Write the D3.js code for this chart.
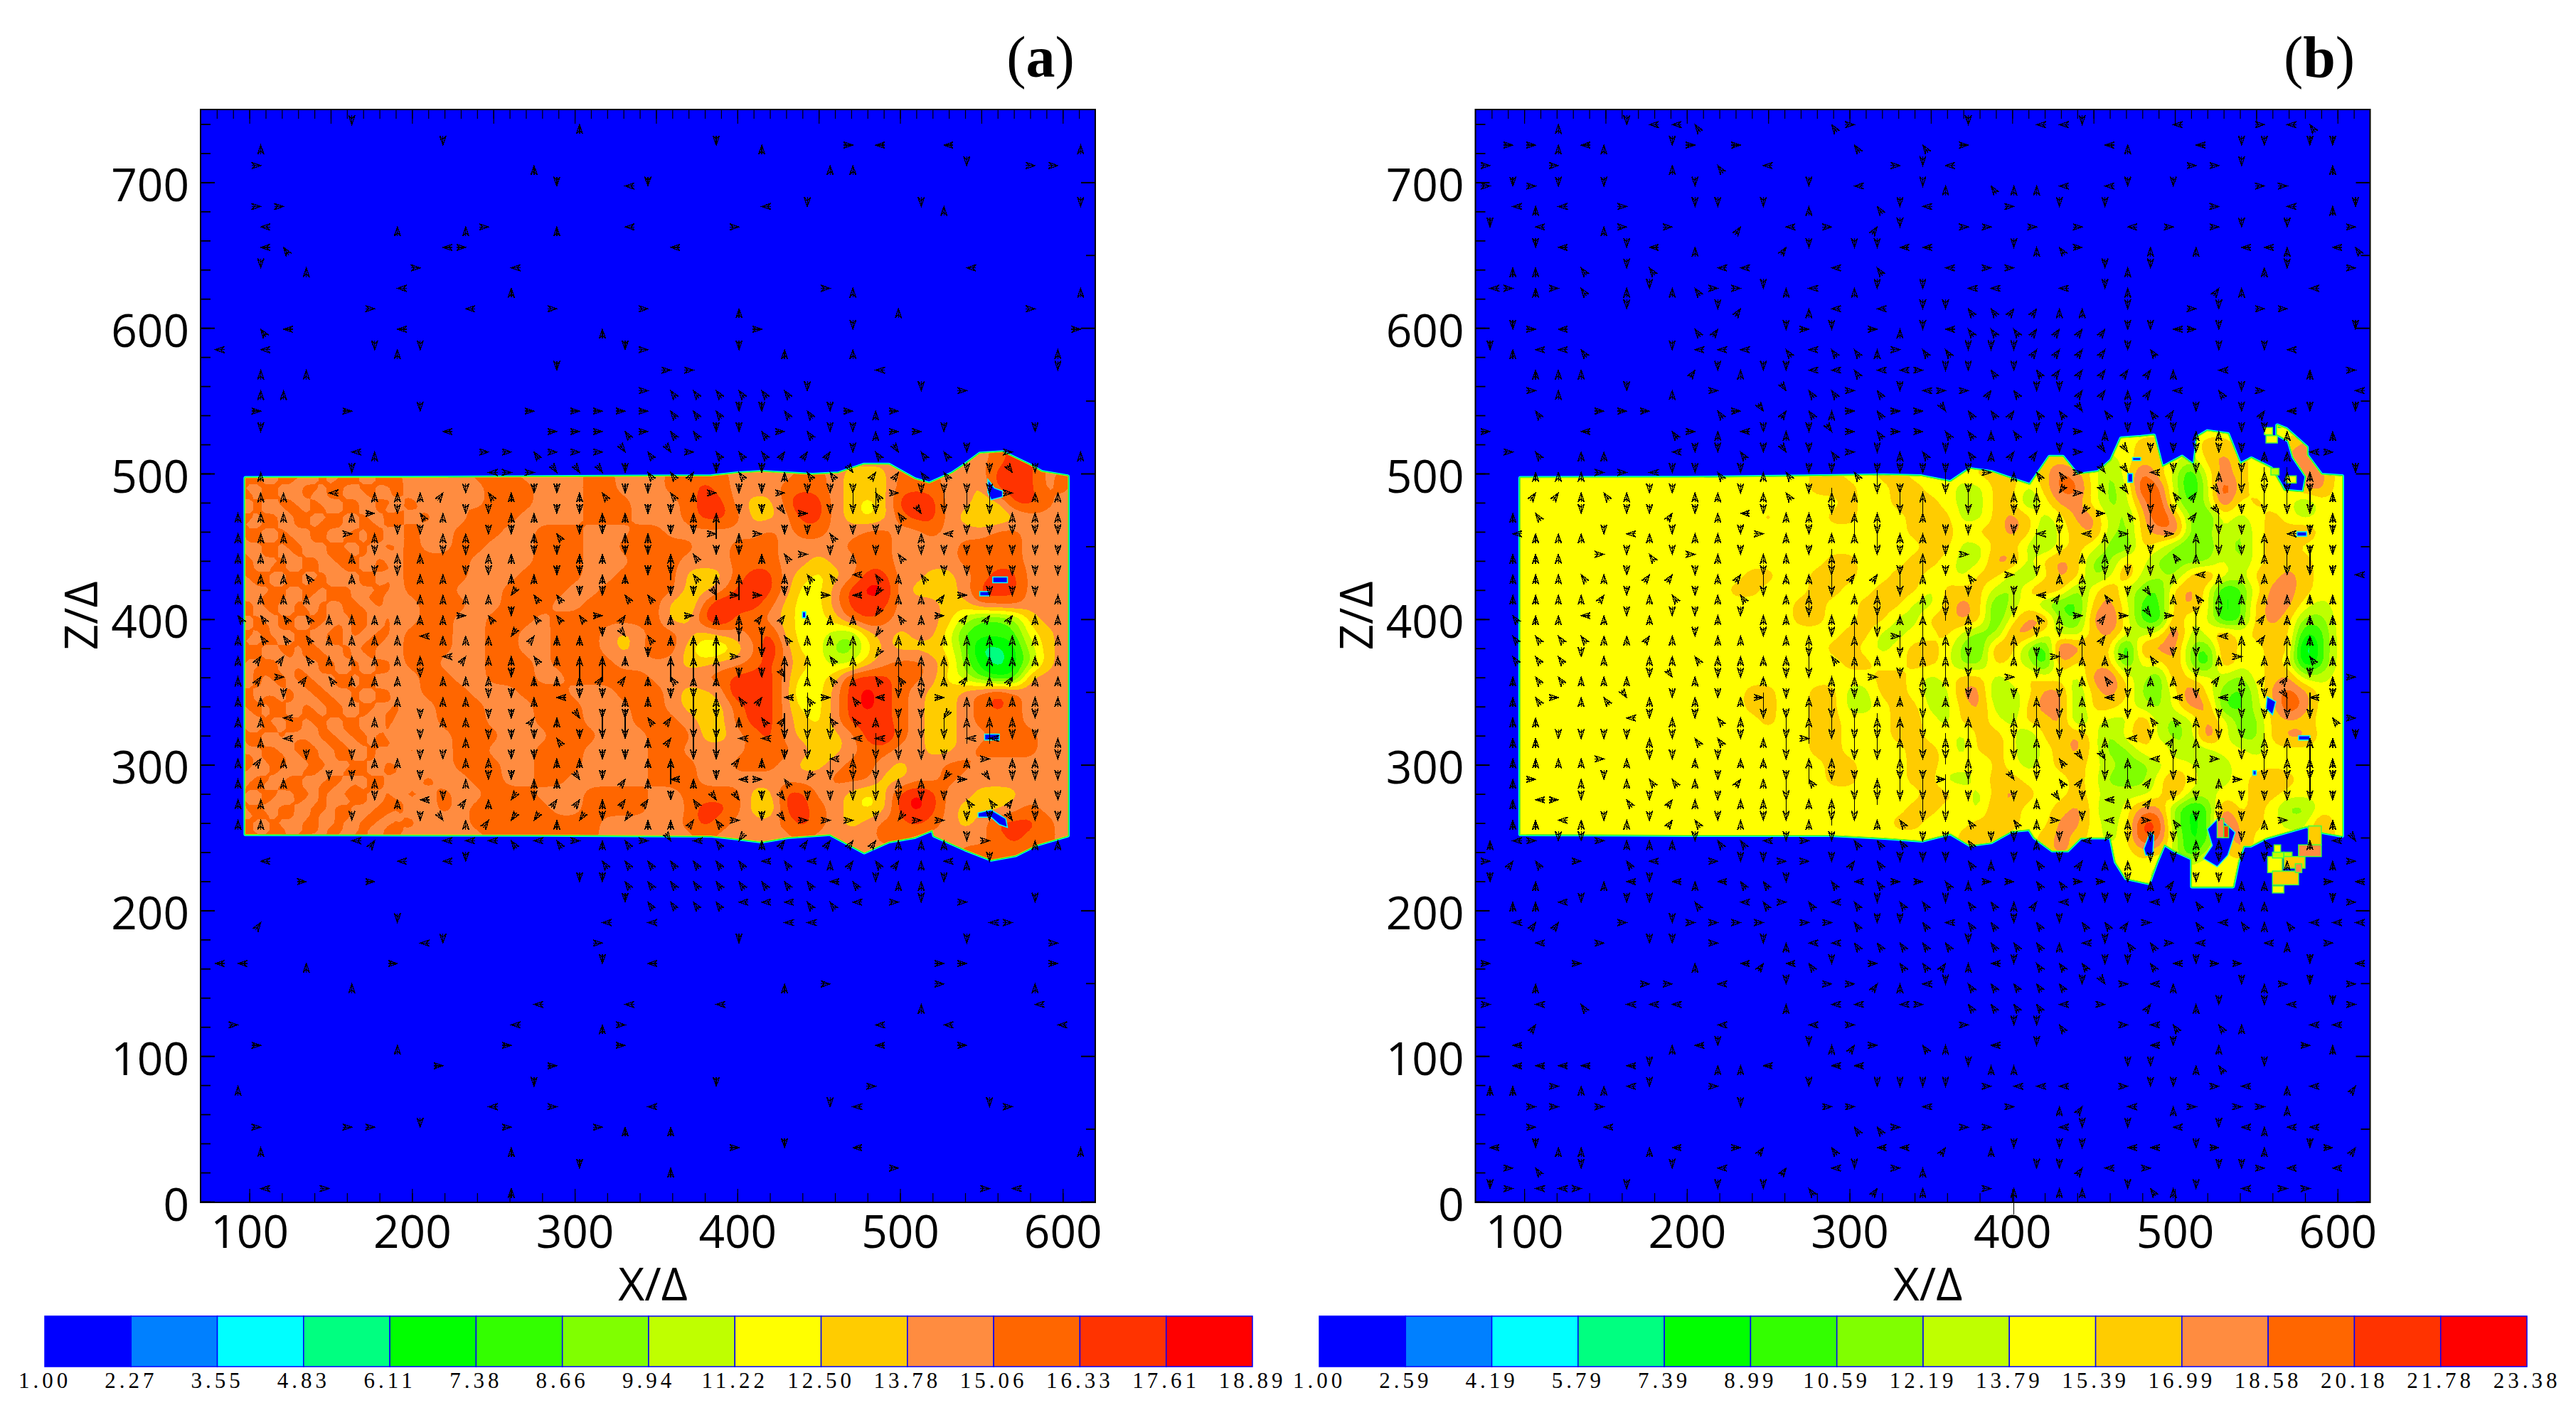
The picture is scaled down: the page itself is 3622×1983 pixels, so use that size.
<!DOCTYPE html>
<html><head><meta charset="utf-8"><title>Contours</title>
<script src="https://cdn.jsdelivr.net/npm/d3@7"></script>
<style>html,body{margin:0;padding:0;background:#fff}svg{display:block}</style></head>
<body><svg id="c" width="3622" height="1983"></svg>
<script>
const bandColors=["#0000ff","#0080ff","#00ffff","#00ff80","#00ff00","#33ff00","#80ff00","#bfff00","#ffff00","#ffcc00","#ff8c40","#ff6600","#ff3300","#ff0000"];
const legendA=["1.00","2.27","3.55","4.83","6.11","7.38","8.66","9.94","11.22","12.50","13.78","15.06","16.33","17.61","18.89"];
const legendB=["1.00","2.59","4.19","5.79","7.39","8.99","10.59","12.19","13.79","15.39","16.99","18.58","20.18","21.78","23.38"];

// Band index read at X=90,100..610 (10 columns per group), Z=530,520..220 (one row per Z)
const fieldA=[
"aaaaaaaaaa aaaaaaaaaa aaaaaaaaaa aaaaaaaaaa aaaaaaaaaa aaa",
"aaaaaaaaaa aaaaaaaaaa aaaaaaaaaa aaaaaaaaaa aaaaaaabca aaa",
"aaaaaaaaaa aaaaaaaaaa aaaaaaaaaa aaaaaaaaaa aaaaaaabcc aaa",
"abbabaabab baaaabbbaa aabbaaabbb baaaabba99 9bbbaaaccc aba",
"abbababbab baaaaabbba aabbaaabbc baaabbba99 9bbbaa9ccc aba",
"babbabaaba abaababbba aabbbaaabc ca99bdca98 9cdcaa99cc baa",
"abababbaab babaabbbaa aabbbaaabc cb99acca98 9bcca9889a aab",
"bababbabaa abaabbbaab bbaaabbaaa aaababbaab baabaaabba aab",
"abbaababab abaabbaaab bbaabbbbba abbbaaaabb baaaabbbba aab",
"babababaab abbbbaaaab bbaaabbbaa abbbaa9aab baaaabbbba aab",
"ababbababa abbbbaaabb bbaabbbb99 9bcca989ac caa99abcca aab",
"bababbabaa abbbaaabbb baabbbbb99 accca88acd da999accca aab",
"ababababba aabbbaabbb aabbcbb98b dccb988acc caaa99bbba aab",
"bababbabab aabbaabbba bbbbbbb99c dbba9889bc baaa975569 aab",
"ababbababa abbbaabbaa bbba9abba9 aabc988769 a9aa855558 9ab",
"babaababab abbbaabbaa bbba9acb97 79ada88668 a999863347 9ab",
"abababbaba abbaaabbba bbbbaaaa99 aabca98779 abba964346 9ab",
"baababbabb aabbaabbba abbbbbaaab bccca889cc cbba87544a aab",
"abbabaabaa aabbbaaabb baaabcba99 adcca78acd cba99abcba aab",
"babbabaaba baabbbaaab bbaaabba99 9bcca88acd cba99abcba aab",
"abbabbabaa aaabbbaaab bbaaabbba9 9bcca98acc cba99abbba aab",
"babbaababb aaaabbbaaa bbbaaabbb9 9abca999ac dba99aabbb aab",
"abaabbabab abaabbaaab bbaaaabbaa aabbba99ab baa99abbbb aab",
"babababbaa baaabbbaab bbaaaabbba abbba99abb a9aabbaaaa aab",
"abbaababab aabaabbaab baaaaabbba aaaaaaabbb 99aabaaaab aab",
"bababaabba ababaabbba aabbbbaabb bb99ccaa98 9cdcaa999a aab",
"ababaababb baababbbbb aabbbba9bc cb98ccba98 9cdca999ab aab",
"bababaabab abaaabbbbb bbbaaaaabc baaabcba9a bbcba9accc bab",
"ababababab baaaaabbbb bbbaaaaaab aaaaabaaaa bbaaaaabcb bab",
"aaaaaaaaaa aaaaaaaaaa aaaaaaaaaa aaaaaaaaaa aaaaabbbbb baa",
"aaaaaaaaaa aaaaaaaaaa aaaaaaaaaa aaaaaaaaaa aaaaaabbba aaa",
"aaaaaaaaaa aaaaaaaaaa aaaaaaaaaa aaaaaaaaaa aaaaaaaaaa aaa"];

// Fine mottling at the jet inlet of panel (a): X=95,100..195, Z=500,495..250; 1 = darker band, 0 = lighter band
const mottleA=[
"011001110010011001101","011001100010111001100","100110001101100110010","110110001001100010010","001001100100011001101","001000110110011001001","110110011001100100110","100110011011100110110","011001000110001011001","011001100110011011000","000110110001100100110","100110010001110100010","110001001100111001001","110011001100011001101","011100110010000110010","001100110110000110110","100011001101110001100","100111001001110011000","010110010010011001011","110010011010011100011","001001100110001100100","001101100100101100100","110100011001101001101","100110011001100011001","011001101100010110010","011000101110010010010","100110000011001001101","101110010011001001100","001011011000110110001","001001001100110110011","110000100110001001100","110110100011001001100","011011001001100110010","001011001101100100110","100100110110011000111","100110110010011000101","011001000011001101000","011000011001100101100","000110011100110010011","110111001100110010001","110011000110001100100","100010001100011100110","001100110001100011001","011001110011001011001","100110011010011100100","100100010010001100110","011001100110110001101","001101100100110011001","110010001100100110010","110011001101100100110","001100110001001100100"];

// Same columns as fieldA, Z=530,520..210
const fieldB=[
"8888888888 8888888888 8888888888 8888888888 8888888888 888",
"8888888888 8888888888 8888888888 8888888889 988998889a a88",
"8888888888 8888888888 8888888888 8889988789 9879a988aa a88",
"8888888888 8888888889 9889988889 9989ba868b 9748a9888a a88",
"8888888888 8888888889 9988998877 9979bb867c b747c9888a a88",
"8888888888 8888888888 8988999877 9968aa867a c757b89886 888",
"8888888888 8888889888 9988899977 9a978aa769 ca65878987 888",
"8888888888 8888888888 8888899989 9a9689a769 ab6686899a 888",
"8888888888 8888888888 8888889977 9976898659 8656768998 888",
"8888888888 8888888888 9988899877 aa79a96698 6666868999 888",
"8888888888 8888899889 9988998879 9768a967a7 769a8799a9 888",
"8888888888 8888998889 9889997999 769a968a76 59a8458aa9 888",
"8888888888 8888888899 88999779a9 5786559a85 59a8459aa8 788",
"8888888888 8888888899 88997799a9 58aa65ab85 4a78459a96 688",
"8888888888 8888888888 8997788976 6aa8779a87 8b78a89994 588",
"8888888888 8888888888 9987899865 a964ca993a aa65a88992 588",
"8888888888 8888888888 8998899866 9874a89958 8a64a88983 588",
"8888888888 8888888888 8889987899 789887ab87 5a887689a7 788",
"8888888888 8888899889 97799877aa 678aa69a96 68b8657aba 888",
"8888888888 8888899889 977899779a 769aa69987 68aa5579ca 888",
"8888888888 8888889889 9888998799 8799a6877a 767a866999 888",
"8888888888 8888888889 9888998879 98699a868a 767b8669aa 888",
"8888888888 8888888889 9888899879 98689a8668 9767887888 888",
"8888888888 8888888888 9988899887 9878998766 7886788888 888",
"8888888888 8888888888 9988899778 9988898666 8a87789a98 888",
"8888888888 8888888888 8888889987 9a98898777 8a77889988 888",
"8888888888 8888888888 8888899887 a9889a868a a645a89866 888",
"8888888888 8888888888 8888998889 9988aa878c c645c99877 a88",
"8888888888 8888888888 888888889a 9889a9878c b7459a8888 a88",
"8888888888 8888888888 8888888888 9889a98889 97478a8888 a88",
"8888888888 8888888888 8888888888 8888888888 7889878888 888",
"8888888888 8888888888 8888888888 8888888888 7798888888 888",
"8888888888 8888888888 8888888888 8888888888 8888888888 888"];

// Jet outline: [X,Z] read along the top edge left to right, then the bottom edge right to left
const outlineA=[[97.7,496.8],[200,497],[300,497.5],[384,498],[400,500],[415,501],[431,500],[446,499],[462,500],[478,506],[493,506],[501,501],[509,496],[518,493],[532,500],[540,506],[549,513.5],[563,514.5],[579,506],[587,501],[603,498],
[603,251.5],[584,245.3],[571,238],[556,235],[540,242],[521,251.5],[520,255.6],[509,250.5],[493,247.4],[478,240],[457,252.5],[431,250.5],[415,247.4],[400,249.5],[384,251.5],[300,252],[200,252.2],[97.7,252.4]];
const outlineB=[[97.7,496.8],[200,497],[282,498],[321,498.7],[344,498],[362,494],[374,503],[387,501],[400,496],[411,492],[423,511.4],[431,511.4],[440,499],[453,501],[461,509],[467,524],[479,525],[487,526],[492,504],[504.4,511.4],[512,505],[514,525],[520,529],[532.5,527],[540,506],[547,510.3],[559,503.6],[567,488],[579.3,487],[581,498],[573,511.4],[570,522.7],[563,527],[563,533],[568.4,530.5],[581,518],[581,512.6],[590,499],[602.7,498],
[602.7,251.4],[590,254],[581,258],[556,250],[546.5,244.6],[542,244.6],[538.7,233.4],[535.6,216.6],[510.6,216.6],[510.6,235.7],[499.7,241.3],[493.4,245.8],[488.7,233.4],[484,218.9],[470,222.2],[463.7,233.4],[460.6,250.2],[442,250.2],[434,241.3],[424.7,241.3],[413.8,250.2],[410.6,255.8],[399.7,254.8],[387,246.9],[374,245],[362,253],[344.4,248],[321,250],[288,252],[200,252],[97.7,252.4]];
// Blue gaps inside each jet, as outlines of [X,Z]
const holesA=[[[554,496],[558,490],[563,488],[563,484],[556,482],[554,487]],[[557,429],[566,429],[566,425],[557,425]],[[549,419],[555,419],[555,416],[549,416]],[[552,321],[561,321],[561,317],[552,317]],[[548,267],[556,269],[565,263],[566,257],[561,259],[556,264],[548,264]],[[440,405],[442,405],[442,401],[440,401]]];
const holesB=[[[520,255.9],[527,263.7],[537,253.6],[532.5,237.9],[526,230],[517.6,235.7],[523,244.6]],[[481,242.4],[484.8,253.6],[487,251.4],[486.4,237.9],[482,237.9]],[[556.7,346.7],[562,343.3],[560,334.3],[556,338.8]],[[575,460],[581,460],[581,457],[575,457]],[[576,320],[583,320],[583,317],[576,317]],[[474,511],[479,511],[479,509],[474,509]],[[471,500],[474,500],[474,494],[471,494]],[[548,296],[550,296],[550,293],[548,293]]];
// Detached patches of the jet: [X0,Z0,X1,Z1,band]
const patchesB=[[555,531.6,560,526.7,8],[556,526,563,521,8],[559,503.6,564,499,7],[568.4,498.4,574.6,493.5,8],[557,237,566,226,8],[560,240,567,236,7],[561,245,565,240,8],[567,240,572,236,7],[567,237,580,229,9],[576,245,590,237,10],[560,227,576,217.6,9],[560,216.8,567,212,8],[582,258,590,245,9],[574,232,578,226,10],[529,258,533,250,12],[526,263,530,250,10]];

// Velocity arrows: one string per grid row, top row first. Each entry is column number + direction.
const arrowsA=[
"6d16u","2u10d22d24u28r29l32l38u","2r14u27u28u33d36r37r","15d18l19d","2r3r24l26d31d32u38d","2l8u11u12r15u18l23r","2l3q10l11r20l","2d4u9r13l33l","8l13u27r28u38u","7r11l15r19r23u30u36r","2q3l8l17u24r28d38r","0l2l7d8u9d18d19r23d25u28u37u","2u4u15d20r21r29l37d","2u3u19r20q21q22q23q24q25q26d31d33r","2r6r9d14r16r17r18r19r20q21q22q23d24d25q26q27d28r29u30r","2d10l15r16r17r18q19r20q21q22d23d24q25r26q27d28d29u30r31r32d36d","6l7u12r13r14q15r16r17r18c19q20c21r22q23q24q25e26e27e28d29q30c31q32q33d35r38u","2u6d12l13r14r15c16c17c18d19q20q21e22d23q24d25u26q27q28c29e30e31q32q33d34d35c36d",
"2u3u5l7u8u9u10e11d12q13u14d15d16u17q18d19d20q21u22r23d24d25r26d27d28d29q30r31d32d33d34d35r36u37u",
"1u2u3u6u7r8d9q10u11d12d13u14u15d16d17u18u19d20d21u22U23d24d25c26r27d28D29D30q31c32D33D34D35u36u37u",
"1u2u3u6r7u8d9d10u11u12d13d14u15q16d17d18u19u20d21d22r23u24r25d26d27q28d29d30d31u32l33d34d35d36d37d",
"1u2u3u6u7d8u9u10d11d12u13u14d15d16u17u18d19d20U21q22d23d24u25q26r27d28u29d30q31d32d33d34d35d36d37d",
"1u2u3u4q6u7d8d9u10u11d12d13u14u15d16d17u18u19d20d21q22U23U25u26q27q28l29q30u31q32d33d34d35d36d37d",
"1u2u3u4u9u10u11u12u13z14q15q16d17d18q19q20d21d22c23r24r25d26d27r28l29z30u31u32e33r34d35d36d37u",
"1q2q3q4q5u6u7u8u9u10u11r12q13d14q15q16q17r18e19u20u21r22u23U24e25e26u27u28u29z30q31u32r33e34e35e36u37u",
"1u2q3q4q5u6u7u8u9l10u11u12u13z14e15u16u17d18c19q20u21U22U23d24d25q26u27u28U29z30U31u32u33U34U35U36u37u",
"1u2e3e4q5u6u7u8u9u10l11e12u13u14q15u16U17U18u19d20U21U22U23r24D25U26U27q28U29z30U31U32U33U34U35U36u37u",
"1u2e3r4e5q6u7u8u9d10u11u12u13d14u15u16u17e18e19u20q21u22u23d24d25c26u27q28u29q30q31u32u33e34u35e36u37u",
"1u2u3d6u8u10u11u12d13d14u15l16d17d18u19u20d21d22u23q24e25l26q27r28q29l30D31D32r33U34u35u36u37u",
"1u2u3l7u9d10u11u12d13d14e15u16c17d18d19q20e21D22D23u24q25e26D27q28q29u30d31d32z33U34U35u36d",
"1u2u3l7u9d11u12d13d14d15q16d17D18D19u20e21D22D23l24l25D26D27D28l29l30D31D32D33l34l35d36d37u",
"1u2e3u4d6d7u8u9d10d11u12u13d14d15u16u17d18d19u20U21D22D23e24u25d26D27l28U29D30D31D32d33u34r35u36u37d",
"1u2u3u5d6d7u9d11u12d13d14u15u16c17d18e19u20l21u22d23l24r25q26z27D28D29D30U31u32z33r34c35d36d37d",
"1u2u7d8u9l10d11e12u13z14d15e16e17u18e19e20d21q22c23c24d25c26d27d28D29D30d31d32d33q34q35e36u37d",
"1u2u6d9d10c11u12e13z14z15u16z17d18z19u20u21e22q23r24d25c26r27r28r29d30z31r32r33d34d35c36d37d",
"6l7e10l11l12l13q14l15q16r17u18q19r20c21l22q23z24u25e26e27e28e29e30u31u32u33d34r36u37u",
"2l8l10l11d17q18q19q20q21q22q23q24l25q26l27u28e29q30e31u32l33u34d",
"4r7r16d17d18q19q20q21q22q23q24q25q26q27l28q29d30u31u32d",
"18d19q20q21q22q23l24l25l26q27q28l30r31d33r36d",
"2e8d17l19l25l26l34l35r","9l10d17r23d33d37r","0l1l4u8r17d19l32r33r37r","6u25u27r32r36u","14l18l22l31u36l","1r13l17u18r29l32l37l","2r8u13r18r29l33r","10r15r","1u14d22d29r","12l15r19l27d28l34d35r","2r6r7r9d13r17r18u20u","2u13u23r25d28l38u","16d20u30r","2l5r13u34r35l"];
const arrowsB=[
"3u6d7l8l9q15q16r21d24l25l26d30l34r35l36q","1r2r3u4l5u8d9r11r16q19q21r27l28u31l33d34d36d37d","0r3r8u10q12l18r19d20l31r32r33d37u","0r1d2r3d5d9d14d16l19d20u22q23u24u25l27l28d30d34r35r","1l2u3l6r9d10d12d14u17q18d19l23r25d27d32r35l37u38d","0d2l5u6r8r11e13l15r17e18d21r22r24r26r28l30r32r33d35d38r","2d3l6d7l9u13e14d16d17d18l19l23d24u25q26r29u31u33l34l35u37l38q","1u2u4q6d7q10l11l15l17q20l22r23r27d28u29d34u35d38r","0l1r2u3r4q6u7d8u9q10r11r12d13u14l16u17d19d21l22l25l27d28u32e33u36l","6d10d11e14u15l17l19d20d21q22q23e24e25u26u28d31r32d34r35r","1d2r3l9q10e13d14r15d17r18u19d20l21q22q23q24e25e26e27e28d29d30l31r32d38d","0d1u2l3l4q8d9l10l11l13q14l15q16q17u18r19q20q21d22d23d24e25e26e27e28d29q32d34d35l","2u3u4u9e10d11u12d13d14l15l16q17l18l19r20d21d22q23d24q25e26e27e28e29e30u32l36u38r","2r3u6d8u10r13c14q15q16r17q18d19l20r21r22e23q24d25d26e27e28u29e30l32q33d34r38l","2q5r6r7r10q11r12c13e14q15u16r17q18r19r20c21q22q23e24q25q26c27q28d29q30e31d33d34e35l36d38d","0r4l8q9r10u11l12d13u14d15c16r17q18r19r20q21q22u23q24d25d26r27u28d29d30d31u32u33d34d35u37u","1r2q4u5u8l9d10d11q12d13c14d15q16r17d18u19q20d21q22u23e24e25d26r27c28c29d30d31d32d33d34u35u36l37r","2u3u4u5r6r7l8d9d10q11d12u13q14d15d16q17d18d19d20d21d22r23u24q25q26r27c28c29l30d31d32u33d34u35u36u38d",
"2e3e4u5q6u7d8d9u10u11d12u13q14d15u16u17D18d19U20D21d23u24u25z26r27c28c29d30q31e32c33D34D35D36d37u",
"1u2q4d6d7d8e9d10u11l12d13u14u15D16U17U18D19u21D23d24D25u26z27r28q29D30d31e32c33d34D35D36D37u",
"1l2u3u4u5d6l7u8d9u10u11d12r13u14d15u16u17d18u19u20d21d23d24l25d26l27U28r29D30r31U32D33d34U35l36d37d",
"1u2u3u5r6d7q8d9r10u11d12u13u14d15u16u17D18d19U20d21r23u24D25D26u27U28D29d30q31u32D33d34u35d36d37d",
"1u2u3u4q5u6d7e8e9d10u11e12d13u14u15D16e17e18d19u20d21q23r24D25u26u27d28D29D30u31l32U33u34u35D36D37d38l",
"1u2u3u4u5e6d7u8q9d10u11q12D13u14u15D16u17u18D19U20U21d23d24l25e26d27q28d29c30u31q32u33u34u35u36u37u",
"1q2u3u4l5u6d7u8d9d10u11d12u13u14D15u16U17D18u19U20D21u23D24q25u26r27e28r29c30r31d32D33u34e35u36u37u",
"1q2q3q4q5u6u7e8u9d10u11u12d13u14U15d16U17D18r19U20U21d23U24d25D26U27e28d29d30d31D32l33U34e35U36u37u",
"1q2q3q4d5u7u8u9q10u11u12u13u14d15q16U17u18D19U20U21D23u24d25r26u27u28r29q30d31D32u33r34u35U36q37u",
"1u2q3q4u5u6u7d8c9u10d11d12u13d14D15u16u17r18d19u20u21D23r24D25D26u27q28D29u30u31D32e33U34e35e36d37u38r",
"1u2q3r4u5q6c7u8d9u10d11u12r13d14U15d16d17u18u19D20u21D23d24U25D26u27l28D29u30l31D32l33d34d35c36l37d",
"1u2u6l7d8u9d10q11u12D13d14U15D16d17U18U19D20u21U23u24U25D26u27u28D29q30q31U32d33D34d35D36D37q38r",
"1u2u3d4d5d6d7u8d9q10q11d12u13D14r15D16D17D18U19D20U21U23D24U25D26D27u28l29d30e31U32D33D34u35U36U37u38d",
"1u2u3u4u5r6u7d8d9u10d11u12u13D14U15u16D17D18U19D20D21U23D24u25q26c27c28U29l30D31U32r33D34D35u36u37u",
"1u2r4u5d6u7q8q9u10d11e12u13d14q15d16d17U18D19d20r21D23c24D25q26e27D28u29e30D31r32u33r34D35D36D37d",
"1u2l3r4d6q7d8e9u10d11u12u13D14u15U16D17d18D19D20D21d23d24u25c26d27l28u29e30d31d32u33d34d35D36D37d",
"1u2u3l4u5d6u7d8e9q10d11u12d13D14u15d16D17u18q19D20D21q23q24u25r26d27l28u29r30q31d32d33d34u35r37u",
"0u1l2r3d4d5r6u7u8u9d10q11q12l13d14r15d16q17q18q19d20d21q22d23d24u25d26l27z28d29d30d31u32u33d34q36u37l38c",
"0r1e2q4r6q7l10r11d12d13r14r15d16e17q18d19d20d21q22u23d24q25d26e27u28u29d30d31d32d33d34d35u37u38r",
"0d2u5u6l7d8l9u10l11q12q13d15q16l17q18r19r20q21u22r23r24q25q26r27r28d29u30e31d32d33u34u37r38l",
"1u2u3l4d6d7d9q11l12q13r14q15l16q17d18q19q20d21q22q23u24e25l26d27d28d29l30d31q32d33u34u37d38r",
"1l2e3e6r8d9r10r11r12r14r15r16q17d18d19q20l21q22q23d24q25d26q27q28e29r31q32l33q34u35q36l37l38l",
"2l5r7d8d10r12d13u14l15l16q17q18q19q20q21d22q23q24q25u26l27d28q29q30r31l34l35u37r",
"0r4r9u11l12e13l14q15d17r18q19q20e21u22l23d24q25q26q27d28d29q30l31d32r33r36d38l",
"2u7r8r10l13d15r16r17e18u19l20d21q22q23q24q25q26d27c28r29l30u33d34u35r36d38r",
"0r2l4q6l7l8l13u15l16l18l19r21q22q23q24q25l27r29e31u32d34d35l37d38r",
"2e10l14l16r21r23d24d25q28r29l30q32q33u36l37l","1l8u9l10d14d15u16e17r19q20u22l24d29l30d32u36r37u","1l2l3l4l6l7d10u11u12l15l16l21d22u23u28d29d31u32q34d","0u1u3r4u5u6l7d10r14d17d18d19d20d22r23l24l25l28r29d30d32r33l35u36l38e","2r3r5r11d15r16r19l23r25u26e28l30u31r33r34r35u","2r5l16q17q18r21r22r25l26d28d30l32d33l34u35l36l","0l2d3u4u7u8l11r12e15q17l18l20e22u23d25d26d28l29l31d32r34u36d37r38e","1r2q4d8d10l13e15l16d18r19u24d25d26e27l29r32d33d34r35l37l","0d1r2l3l4r6d10d12d14q17e19u22r23U25u26u28d29q30u31d33l35r36r"];

const svg=d3.select("#c");
const dirAngle={u:0,e:35,r:90,c:145,d:180,z:215,l:270,q:325,U:0,D:180};
const arrowLen={U:36,D:36};
const sans="'Open Sans','Noto Sans',sans-serif";
const fineCells=4;

function smooth(data,w,h,passes){
  let a=Float64Array.from(data),b=new Float64Array(a.length);
  for(let p=0;p<passes;p++){
    for(let j=0;j<h;j++)for(let i=0;i<w;i++){
      const l=a[j*w+Math.max(i-1,0)],r=a[j*w+Math.min(i+1,w-1)];
      b[j*w+i]=(l+2*a[j*w+i]+r)/4;
    }
    for(let j=0;j<h;j++)for(let i=0;i<w;i++){
      const u=b[Math.max(j-1,0)*w+i],d=b[Math.min(j+1,h-1)*w+i];
      a[j*w+i]=(u+2*b[j*w+i]+d)/4;
    }
  }
  return a;
}
function sampler(vals,w,h){
  return (u,v)=>{
    u=Math.max(0,Math.min(w-1,u));v=Math.max(0,Math.min(h-1,v));
    const i=Math.min(Math.floor(u),w-2),j=Math.min(Math.floor(v),h-2),fu=u-i,fv=v-j;
    return (1-fv)*((1-fu)*vals[j*w+i]+fu*vals[j*w+i+1])+fv*((1-fu)*vals[(j+1)*w+i]+fu*vals[(j+1)*w+i+1]);
  };
}

function drawPanel(left,id,field,mottle,outline,holes,patches,arrows,letter,titleX,labelX){
  const g=svg.append("g");
  const x=d3.scaleLinear().domain([70,620]).range([left,left+1258]);
  const y=d3.scaleLinear().domain([0,750]).range([1690,154]);
  g.append("rect").attr("x",x(70)).attr("y",y(750)).attr("width",x(620)-x(70)).attr("height",y(0)-y(750)).attr("fill",bandColors[0]);

  const rows=field.map(r=>r.replace(/ /g,""));
  const nx=rows[0].length, nz=rows.length;
  const values=[];
  rows.forEach(r=>{for(let i=0;i<nx;i++)values.push(parseInt(r[i],16)+0.5)});
  const coarse=sampler(values,nx,nz);
  const fw=(nx-1)*fineCells+1, fh=(nz-1)*fineCells+1;
  const fstep=10/fineCells;
  let fine=new Float64Array(fw*fh);
  for(let j=0;j<fh;j++)for(let i=0;i<fw;i++)fine[j*fw+i]=coarse(i/fineCells,j/fineCells);
  fine=smooth(fine,fw,fh,4);
  if(mottle.length){
    const mw=mottle[0].length,mh=mottle.length,mv=[];
    mottle.forEach(r=>{for(const c of r)mv.push(c==="1"?11.5:10.5)});
    const ms=sampler(mv,mw,mh);
    const edge=d3.scaleLinear().domain([180,195]).range([1,0]).clamp(true);
    for(let j=0;j<fh;j++)for(let i=0;i<fw;i++){
      const X=90+i*fstep,Z=530-j*fstep,wt=edge(X);
      if(wt>0&&Z>=245&&Z<=505) fine[j*fw+i]=wt*ms((X-95)/5,(500-Z)/5)+(1-wt)*fine[j*fw+i];
    }
    fine=smooth(fine,fw,fh,1);
  }
  const contours=d3.contours().size([fw,fh]).thresholds(d3.range(0,14))(Array.from(fine));
  const gridX=d3.scaleLinear().domain([0.5,1.5]).range([90,90+fstep]);
  const gridZ=d3.scaleLinear().domain([0.5,1.5]).range([530,530-fstep]);
  const path=d3.geoPath(d3.geoTransform({point(a,b){this.stream.point(x(gridX(a)),y(gridZ(b)))}}));
  const line=d3.line().x(d=>x(d[0])).y(d=>y(d[1])).curve(d3.curveLinearClosed);

  const rims=[["#00ffff",6],["#00ff40",4],["#b0ff00",2]];
  rims.forEach(([c,w])=>{
    g.append("path").attr("d",line(outline)).attr("fill","none").attr("stroke",c).attr("stroke-width",w).attr("stroke-linejoin","round");
  });
  const clip=svg.append("clipPath").attr("id","jet"+id);
  clip.append("path").attr("d",line(outline));
  g.append("g").attr("clip-path",`url(#jet${id})`).selectAll("path").data(contours).join("path")
    .attr("d",path).attr("fill",d=>bandColors[d.value]).attr("stroke","none").attr("shape-rendering","crispEdges");
  g.append("g").selectAll("path").data(holes).join("path").attr("d",line)
    .attr("fill",bandColors[0]).attr("stroke","#00ffff").attr("stroke-width",1.5);
  g.append("g").selectAll("rect").data(patches).join("rect")
    .attr("x",d=>x(d[0])).attr("y",d=>y(d[1])).attr("width",d=>x(d[2])-x(d[0])).attr("height",d=>y(d[3])-y(d[1]))
    .attr("fill",d=>bandColors[d[4]]).attr("stroke","#40ff40").attr("stroke-width",1.5);

  const colX=d3.scaleLinear().domain([0,38]).range([79,611]);
  const rowZ=d3.scaleLinear().domain([52,0]).range([739.6,9]);
  const parsed=[];
  arrows.forEach((s,r)=>{
    for(const m of s.matchAll(/(\d+)([a-zA-Z])/g)) parsed.push({col:+m[1],row:52-r,dir:m[2]});
  });
  g.append("g").selectAll("path").data(parsed).join("path")
    .attr("transform",d=>`translate(${x(colX(d.col))},${y(rowZ(d.row))}) rotate(${dirAngle[d.dir]})`)
    .attr("d",d=>{const L=arrowLen[d.dir]||13;return `M0,${L}L0,0M-4.5,13L0,0L4.5,13L0,8Z`})
    .attr("fill","none").attr("stroke","#000").attr("stroke-width",1.3).attr("shape-rendering","crispEdges");

  const axisStyle=a=>{a.select(".domain").remove();a.selectAll("line").attr("stroke","#000");};
  const major=d3.range(100,601,100), zMajor=d3.range(0,701,100);
  const axB=d3.axisBottom(x).tickValues(d3.range(100,601,20)).tickSize(-13).tickFormat("");
  const axBM=d3.axisBottom(x).tickValues(major).tickSize(-19).tickPadding(0).tickFormat(d3.format("d"));
  const axT=d3.axisTop(x).tickValues(d3.range(80,620,10)).tickSize(-13).tickFormat("");
  const axTM=d3.axisTop(x).tickValues(d3.range(100,601,50)).tickSize(-20).tickFormat("");
  const axL=d3.axisLeft(y).tickValues(d3.range(0,741,20)).tickSize(-14).tickFormat("");
  const axLM=d3.axisLeft(y).tickValues(zMajor).tickSize(-20).tickPadding(0).tickFormat(d3.format("d"));
  const axR=d3.axisRight(y).tickValues(d3.range(50,701,100)).tickSize(-13).tickFormat("");
  const axRM=d3.axisRight(y).tickValues(zMajor).tickSize(-20).tickFormat("");
  const at=(ax,tx,ty,w)=>{const a=g.append("g").attr("transform",`translate(${tx},${ty})`).call(ax);axisStyle(a);a.selectAll("line").attr("stroke-width",w);return a;};
  at(axB,0,1691,1.2);at(axT,0,154,1.2);at(axL,left,0,1.8);at(axR,left+1258,0,1.8);at(axTM,0,154,1.2);at(axRM,left+1258,0,2);
  const bm=at(axBM,0,1691,1.2);
  bm.selectAll("text").attr("y",0).attr("dy",null).attr("transform","translate(0,64)").attr("font-family",sans).attr("font-size",64).attr("fill","#000").attr("text-anchor","middle");
  const lm=at(axLM,left,0,2);
  lm.selectAll("text").attr("x",-16).attr("dy",null).attr("transform","translate(0,26)").attr("font-family",sans).attr("font-size",64).attr("fill","#000").attr("text-anchor","end");
  g.append("rect").attr("x",x(70)).attr("y",y(750)).attr("width",x(620)-x(70)).attr("height",y(0)-y(750)+1).attr("fill","none").attr("stroke","#000").attr("stroke-width",2);

  g.append("text").attr("x",left+636).attr("y",1829).attr("text-anchor","middle").attr("font-family",sans).attr("font-size",64).attr("fill","#000").text("X/Δ");
  g.append("text").attr("transform",`translate(${labelX},866) rotate(-90)`).attr("text-anchor","middle").attr("font-family",sans).attr("font-size",64).attr("fill","#000").text("Z/Δ");
  const t=g.append("text").attr("x",titleX).attr("y",108).attr("text-anchor","middle").attr("font-family","'Liberation Serif',serif").attr("font-size",82).attr("fill","#000");
  t.append("tspan").text("(");t.append("tspan").attr("font-weight","bold").text(letter);t.append("tspan").text(")");
}

function drawLegend(x0,labels){
  const g=svg.append("g");
  const s=d3.scaleLinear().domain([0,14]).range([x0,x0+1698]);
  g.selectAll("rect").data(bandColors).join("rect")
    .attr("x",(d,i)=>s(i)).attr("y",1851).attr("width",(d,i)=>s(i+1)-s(i)).attr("height",71)
    .attr("fill",d=>d).attr("stroke","#0000ff").attr("stroke-width",1.5);
  g.selectAll("text").data(labels).join("text")
    .attr("x",(d,i)=>s(i)).attr("y",1952).attr("text-anchor","middle")
    .attr("font-family","'Liberation Serif',serif").attr("font-size",31).attr("letter-spacing",5).attr("fill","#000").text(d=>d);
}

drawPanel(282,"A",fieldA,mottleA,outlineA,holesA,[],arrowsA,"a",1463,137);
drawPanel(2074.5,"B",fieldB,[],outlineB,holesB,patchesB,arrowsB,"b",3261,1930);
drawLegend(63,legendA);
drawLegend(1855,legendB);
</script></body></html>
